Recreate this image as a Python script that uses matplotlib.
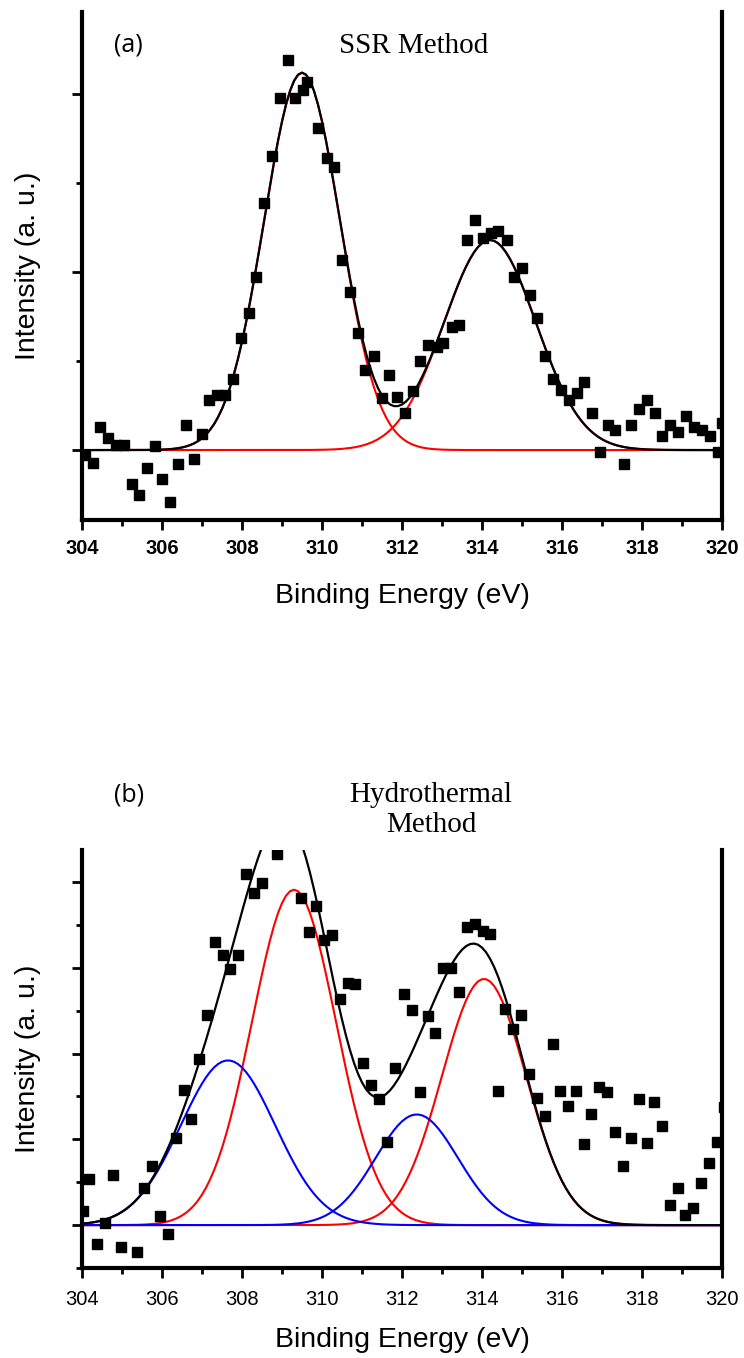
import matplotlib
matplotlib.use("Agg")
import matplotlib.pyplot as plt
from matplotlib.ticker import MultipleLocator
import numpy as np

# ---- panel (a): SSR method, measured points ----
ssr_energy = [304.07, 304.27, 304.45, 304.64, 304.85, 305.06, 305.24, 305.43, 305.63, 305.82,
              306.01, 306.21, 306.41, 306.60, 306.80, 306.99, 307.18, 307.38, 307.58, 307.78,
              307.97, 308.17, 308.35, 308.55, 308.75, 308.95, 309.14, 309.33, 309.53, 309.63,
              309.90, 310.12, 310.31, 310.50, 310.70, 310.89, 311.08, 311.30, 311.49, 311.68,
              311.87, 312.07, 312.27, 312.45, 312.66, 312.87, 313.03, 313.24, 313.43, 313.63,
              313.82, 314.02, 314.22, 314.41, 314.62, 314.81, 315.01, 315.20, 315.38, 315.58,
              315.78, 315.98, 316.18, 316.37, 316.56, 316.76, 316.94, 317.15, 317.33, 317.54,
              317.73, 317.92, 318.12, 318.32, 318.51, 318.71, 318.90, 319.10, 319.29, 319.50,
              319.69, 319.89, 320.00]
ssr_intensity = [-0.03, -0.07, 0.13, 0.07, 0.03, 0.03, -0.19, -0.25, -0.10, 0.02,
                 -0.16, -0.29, -0.08, 0.14, -0.05, 0.09, 0.28, 0.31, 0.31, 0.40,
                 0.63, 0.77, 0.97, 1.39, 1.65, 1.98, 2.19, 1.98, 2.02, 2.07,
                 1.81, 1.64, 1.59, 1.07, 0.89, 0.66, 0.45, 0.53, 0.29, 0.42,
                 0.30, 0.21, 0.33, 0.50, 0.59, 0.58, 0.60, 0.69, 0.70, 1.18,
                 1.29, 1.19, 1.22, 1.23, 1.18, 0.97, 1.02, 0.87, 0.74, 0.53,
                 0.40, 0.34, 0.28, 0.32, 0.38, 0.21, -0.01, 0.14, 0.11, -0.08,
                 0.14, 0.23, 0.28, 0.21, 0.08, 0.14, 0.10, 0.19, 0.13, 0.11,
                 0.08, -0.01, 0.15]
# fitted Gaussian components (center, height, sigma)
ssr_peaks = [(309.50, 2.12, 0.95), (314.20, 1.18, 1.15)]

# ---- panel (b): hydrothermal method, measured points ----
hyd_energy = [304.03, 304.18, 304.38, 304.58, 304.78, 304.98, 305.37, 305.56, 305.76, 305.95,
              306.15, 306.34, 306.54, 306.73, 306.93, 307.13, 307.33, 307.52, 307.70, 307.91,
              308.10, 308.30, 308.49, 308.88, 309.47, 309.67, 309.85, 310.05, 310.25, 310.45,
              310.64, 310.83, 311.02, 311.22, 311.42, 311.62, 311.83, 312.06, 312.25, 312.45,
              312.64, 312.83, 313.03, 313.23, 313.42, 313.62, 313.82, 314.02, 314.21, 314.40,
              314.58, 314.78, 314.98, 315.17, 315.38, 315.57, 315.77, 315.96, 316.15, 316.35,
              316.54, 316.73, 316.93, 317.13, 317.32, 317.52, 317.72, 317.92, 318.12, 318.31,
              318.50, 318.69, 318.89, 319.08, 319.28, 319.48, 319.68, 319.88, 320.04]
hyd_intensity = [0.17, 0.54, -0.22, 0.02, 0.59, -0.25, -0.31, 0.43, 0.69, 0.11,
                 -0.10, 1.01, 1.57, 1.24, 1.94, 2.45, 3.30, 3.15, 2.98, 3.15,
                 4.09, 3.87, 3.99, 4.33, 3.81, 3.42, 3.72, 3.32, 3.38, 2.64,
                 2.82, 2.81, 1.89, 1.63, 1.47, 0.97, 1.83, 2.69, 2.51, 1.55,
                 2.44, 2.24, 3.00, 3.00, 2.72, 3.48, 3.51, 3.43, 3.39, 1.56,
                 2.52, 2.29, 2.45, 1.76, 1.48, 1.27, 2.11, 1.56, 1.39, 1.56,
                 0.95, 1.29, 1.61, 1.55, 1.09, 0.69, 1.02, 1.47, 0.96, 1.44,
                 1.15, 0.23, 0.43, 0.12, 0.20, 0.49, 0.72, 0.97, 1.38]
hyd_red_peaks = [(309.30, 3.91, 1.05), (314.05, 2.87, 1.05)]
hyd_blue_peaks = [(307.65, 1.92, 1.18), (312.37, 1.29, 1.03)]

xticks = [304, 306, 308, 310, 312, 314, 316, 318, 320]

W, H = 744, 1358
fig = plt.figure(figsize=(W / 100, H / 100), dpi=100)


def gauss(x, c, h, s):
    return h * np.exp(-(x - c) ** 2 / (2 * s ** 2))


def style_axes(ax, ylim, bold, tick_pad, label_pad):
    ax.set_xlim(304, 320)
    ax.set_ylim(*ylim)
    ax.spines["top"].set_visible(False)
    for side in ("left", "right", "bottom"):
        ax.spines[side].set_linewidth(3)
    ax.xaxis.set_major_locator(MultipleLocator(2))
    ax.xaxis.set_minor_locator(MultipleLocator(1))
    ax.yaxis.set_major_locator(MultipleLocator(1))
    ax.yaxis.set_minor_locator(MultipleLocator(0.5))
    ax.tick_params(axis="both", which="both", direction="out", top=False, right=False)
    ax.tick_params(axis="both", which="major", length=7, width=2)
    ax.tick_params(axis="both", which="minor", length=4, width=2)
    ax.tick_params(axis="y", labelleft=False)
    ax.tick_params(axis="x", pad=tick_pad)
    ax.set_xticks(xticks)
    ax.set_xticklabels([str(t) for t in xticks], fontsize=14.5,
                       fontweight="bold" if bold else "normal", family="Liberation Sans")
    ax.set_xlabel("Binding Energy (eV)", fontsize=20.5, family="Liberation Sans",
                  labelpad=label_pad)
    ax.set_ylabel("Intensity (a. u.)", fontsize=20.5, family="Liberation Sans", labelpad=22)


xs = np.arange(304, 320.01, 0.1)

# ---- top panel ----
ax1 = fig.add_axes([82 / W, 1 - 520 / H, 640 / W, 508 / H])
total = np.zeros_like(xs)
for c, h, s in ssr_peaks:
    comp = gauss(xs, c, h, s)
    total += comp
    ax1.plot(xs, comp, color="#ff0000", lw=1.5, zorder=2)
ax1.plot(xs, total, color="black", lw=1.6, zorder=3)
ax1.plot(ssr_energy, ssr_intensity, ls="none", marker="s", ms=7.5, color="black", zorder=4)
style_axes(ax1, (-0.393, 2.461), bold=True, tick_pad=7, label_pad=18)

# ---- bottom panel ----
ax2 = fig.add_axes([82 / W, 1 - 1268 / H, 640 / W, 418 / H])
total = np.zeros_like(xs)
for c, h, s in hyd_red_peaks:
    comp = gauss(xs, c, h, s)
    total += comp
    ax2.plot(xs, comp, color="#ff0000", lw=1.5, zorder=2)
for c, h, s in hyd_blue_peaks:
    comp = gauss(xs, c, h, s)
    total += comp
    ax2.plot(xs, comp, color="#0000ff", lw=1.5, zorder=2)
ax2.plot(xs, total, color="black", lw=1.6, zorder=3)
ax2.plot(hyd_energy, hyd_intensity, ls="none", marker="s", ms=7.5, color="black", zorder=4)
style_axes(ax2, (-0.50, 4.373), bold=False, tick_pad=9, label_pad=13)

# ---- annotations ----
fig.text(114 / W, 1 - 45 / H, "(a)", fontsize=18, family="Open Sans", va="center", ha="left")
fig.text(414 / W, 1 - 46 / H, "SSR Method", fontsize=21, family="Liberation Serif",
         va="center", ha="center")
fig.text(114 / W, 1 - 795 / H, "(b)", fontsize=18, family="Open Sans", va="center", ha="left")
fig.text(431 / W, 1 - 810 / H, "Hydrothermal\nMethod", fontsize=21, family="Liberation Serif",
         va="center", ha="center", linespacing=1.25)

fig.savefig("out.png", dpi=100)
